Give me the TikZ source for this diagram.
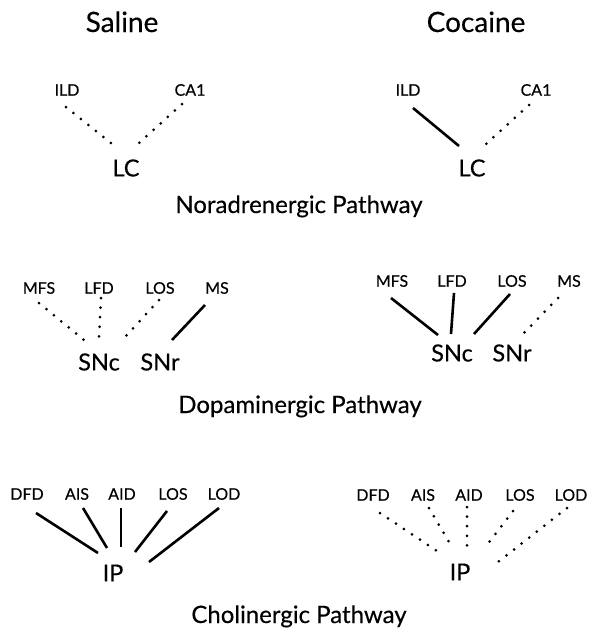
\documentclass[tikz,border=0pt]{standalone}
\usepackage{fontspec}
\setmainfont{Lato}[FakeBold=0.35]
\usepackage{tikz}
\tikzset{
  area/.style={inner sep=0pt,font=\fontsize{16}{16}\selectfont},
  nucleus/.style={inner sep=0pt,font=\fontsize{23.5}{23.5}\selectfont},
  group/.style={inner sep=0pt,anchor=base,font=\fontsize{28}{28}\selectfont},
  pathway/.style={inner sep=0pt,anchor=base,font=\fontsize{24}{24}\selectfont},
  active/.style={line width=2.6pt},
  inactive/.style={line width=3pt,line cap=round,dash pattern=on 0pt off 9.6pt}
}
\begin{document}
\begin{tikzpicture}[x=1pt,y=-1pt]
		\useasboundingbox (0,0) rectangle (601,640);
		% groups
		\node[group] (saline) at (122,32) {Saline};
		\node[group] (cocaine) at (476,32) {Cocaine};
		% noradrenergic
		\node[area] (ild1) at (67,90) {ILD};
		\node[area] (cai1) at (190,90) {CA1};
		\node[nucleus] (lc1) at (126,168) {LC};
		\node[area] (ild2) at (408,90) {ILD};
		\node[area] (cai2) at (536,90) {CA1};
		\node[nucleus] (lc2) at (472,168) {LC};
		\node[pathway] (nor) at (299,213) {Noradrenergic Pathway};
		\draw[inactive] ([shift={(-1,17)}]ild1.center) -- ([shift={(-15,-25)}]lc1.center);
		\draw[inactive] ([shift={(-8,14)}]cai1.center) -- ([shift={(13,-25)}]lc1.center);
		\draw[active] ([shift={(5,18)}]ild2.center) -- ([shift={(-13,-22)}]lc2.center);
		\draw[inactive] ([shift={(-7,15)}]cai2.center) -- ([shift={(14,-24)}]lc2.center);
		% dopaminergic
		\node[area] (mfs1) at (39,288) {MFS};
		\node[area] (lfd1) at (99,288) {LFD};
		\node[area] (los1) at (160,288) {LOS};
		\node[area] (ms1) at (217,288) {MS};
		\node[nucleus] (snc1) at (99,362) {SNc};
		\node[nucleus] (snr1) at (160,362) {SNr};
		\node[area] (mfs2) at (392,281) {MFS};
		\node[area] (lfd2) at (452,281) {LFD};
		\node[area] (los2) at (512,281) {LOS};
		\node[area] (ms2) at (569,281) {MS};
		\node[nucleus] (snc2) at (452,353) {SNc};
		\node[nucleus] (snr2) at (512,353) {SNr};
		\node[pathway] (dop) at (300,413) {Dopaminergic Pathway};
		\draw[inactive] ([shift={(0,15)}]mfs1.center) -- ([shift={(-15,-22)}]snc1.center);
		\draw[inactive] ([shift={(2,10)}]lfd1.center) -- ([shift={(0,-25)}]snc1.center);
		\draw[inactive] ([shift={(-1,12)}]los1.center) -- ([shift={(27,-26)}]snc1.center);
		\draw[active] ([shift={(-12,17)}]ms1.center) -- ([shift={(12,-22)}]snr1.center);
		\draw[active] ([shift={(-1,17)}]mfs2.center) -- ([shift={(-14,-18)}]snc2.center);
		\draw[active] ([shift={(2,12)}]lfd2.center) -- ([shift={(-1,-19)}]snc2.center);
		\draw[active] ([shift={(-2,13)}]los2.center) -- ([shift={(22,-19)}]snc2.center);
		\draw[inactive] ([shift={(-11,17)}]ms2.center) -- ([shift={(12,-20)}]snr2.center);
		% cholinergic
		\node[area] (dfd1) at (27,494) {DFD};
		\node[area] (ais1) at (77,494) {AIS};
		\node[area] (aid1) at (122,494) {AID};
		\node[area] (lss1) at (173,494) {LOS};
		\node[area] (lod1) at (224,494) {LOD};
		\node[nucleus] (ip1) at (113,573) {IP};
		\node[area] (dfd2) at (373,495) {DFD};
		\node[area] (ais2) at (423,495) {AIS};
		\node[area] (aid2) at (469,495) {AID};
		\node[area] (lss2) at (520,495) {LOS};
		\node[area] (lod2) at (571,495) {LOD};
		\node[nucleus] (ip2) at (460,572) {IP};
		\node[pathway] (cho) at (299,623) {Cholinergic Pathway};
		\draw[active] ([shift={(9,19)}]dfd1.center) -- ([shift={(-15,-20)}]ip1.center);
		\draw[active] ([shift={(6,14)}]ais1.center) -- ([shift={(-6,-25)}]ip1.center);
		\draw[active] ([shift={(-1,14)}]aid1.center) -- ([shift={(8,-26)}]ip1.center);
		\draw[active] ([shift={(-6,17)}]lss1.center) -- ([shift={(22,-21)}]ip1.center);
		\draw[active] ([shift={(-5,14)}]lod1.center) -- ([shift={(36,-11)}]ip1.center);
		\draw[inactive] ([shift={(7,18)}]dfd2.center) -- ([shift={(-23,-21)}]ip2.center);
		\draw[inactive] ([shift={(6,13)}]ais2.center) -- ([shift={(-11,-30)}]ip2.center);
		\draw[inactive] ([shift={(-2,12)}]aid2.center) -- ([shift={(7,-26)}]ip2.center);
		\draw[inactive] ([shift={(-7,16)}]lss2.center) -- ([shift={(24,-23)}]ip2.center);
		\draw[inactive] ([shift={(-4,13)}]lod2.center) -- ([shift={(38,-10)}]ip2.center);
	\end{tikzpicture}
\end{document}
